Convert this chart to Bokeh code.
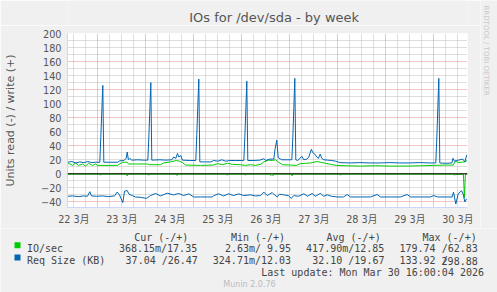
from bokeh.plotting import figure
from bokeh.layouts import column, row
from bokeh.models import Range1d, FixedTicker, Grid, Span
from bokeh.core.properties import value
from bokeh.embed import file_html
from bokeh.resources import INLINE

# ---------------- data (x = hours since 22 Mar 2026 00:00) ----------------
day_tick_hours = [12, 36, 60, 84, 108, 132, 156, 180, 204]
day_tick_labels = ["22 3月", "23 3月", "24 3月", "25 3月", "26 3月", "27 3月", "28 3月", "29 3月", "30 3月"]
y_ticks = [-40, -20, 0, 20, 40, 60, 80, 100, 120, 140, 160, 180, 200]

# IO/sec write (+)
io_write_t = [8.85, 9.35, 11.35, 12.85, 14.35, 16.35, 17.85, 19.35, 21.35, 22.85, 23.85, 33.85, 34.85,
              36.35, 38.7, 39.35, 48.85, 49.85, 55.35, 56.85, 60.35, 63.35, 64.85, 66.35, 67.85, 75.35,
              81.85, 83.85, 86.35, 88.85, 91.35, 95.35, 97.85, 100.35, 102.85, 105.35, 107.0, 109.35,
              111.35, 112.85, 114.35, 116.35, 120.35, 123.35, 125.35, 127.85, 130.35, 133.7, 135.35,
              137.85, 140.35, 143.35, 147.85, 155.35, 162.85, 170.35, 177.85, 185.35, 191.85, 197.85,
              201.7, 202.85, 204.35, 205.85, 207.5, 208.6]
io_write_v = [13, 15, 12, 15.5, 12, 14, 11, 15, 12, 14, 12, 12, 14,
              16.5, 16.5, 14, 14, 13, 13, 15.5, 17, 19, 18, 16, 12.5, 12,
              12.5, 14.5, 13, 15, 13.5, 13, 12, 13, 12, 13.5, 17, 19.5,
              19, 20, 16.5, 13, 12.5, 12, 14.5, 15, 15.5, 17.5, 16.5,
              15, 13.5, 12, 11.5, 11, 11.5, 11, 11, 11.5, 12, 12.5,
              12.5, 18, 16, 16.5, 17, 19]

# IO/sec read (-)
io_read_t = [8.85, 25.0, 25.35, 25.8, 38.3, 38.7, 39.1, 49.1, 49.5, 49.9, 63.3, 63.7, 64.1, 88.3, 88.7,
             89.1, 97.5, 97.85, 98.2, 110.0, 110.5, 111.0, 111.8, 112.2, 120.8, 121.2, 121.6, 132.7,
             133.1, 133.5, 145.0, 145.35, 145.7, 193.0, 193.35, 193.7, 201.5, 202.0, 203.0, 206.8,
             207.3, 207.8, 208.85]
io_read_v = [-0.4, -0.4, -2.0, -0.4, -0.4, -3.0, -0.4, -0.4, -2.0, -0.4, -0.4, -2.5, -0.4, -0.4, -2.0,
             -0.4, -0.4, -2.0, -0.4, -0.4, -2.5, -1.0, -2.5, -0.4, -0.4, -3.0, -0.4, -0.4,
             -1.5, -0.4, -0.4, -2.0, -0.4, -0.4, -1.5, -0.4, -0.4, -1.5, -1.0, -0.5,
             -34, -0.4, -0.4]

# Req Size (KB) write (+)
req_write_t = [8.85, 11, 13, 15, 17, 19, 21, 23, 25.0, 25.5, 26.5, 27.0, 30, 34, 35, 37, 38.2, 38.7, 39.3,
               40, 41, 44, 47, 49.0, 49.5, 50.5, 51.0, 55, 58, 61, 62, 63, 63.85, 64.5, 65.5, 66.3, 70,
               73.0, 73.5, 74.5, 75.0, 78, 80.5, 82, 84, 86, 88, 90, 93, 96, 97.0, 97.5, 98.5, 99.0,
               102, 105, 107, 108, 110, 112, 112.6, 113.5, 114.2, 116, 119, 121.0, 121.5, 122.5, 123.0,
               124, 126, 127, 128.5, 129.5, 130.8, 131.5, 132.5, 133.5, 134.3, 135.2, 136, 137, 139,
               141, 143, 145, 150, 155, 160, 165, 170, 175, 180, 185, 190, 193.0, 193.5, 194.5, 195.0,
               198, 201, 201.6, 202.3, 203.5, 205, 206.5, 207.5, 208.5]
req_write_v = [16.5, 17.5, 15.5, 17, 16, 17.5, 16, 16.5, 16.5, 52, 126, 16.5, 16.5, 16.5, 18.5, 19, 22, 31, 20,
               22, 19.5, 20, 19.5, 19.5, 50, 130, 19.5, 20, 19.5, 20, 24, 22, 29, 24, 26, 19.5, 19,
               19, 56, 135, 17, 17, 17, 19, 18, 20, 18, 19, 19, 19, 19, 50, 132, 19,
               19, 19.5, 21.5, 19, 21, 21, 35, 48, 23, 20, 20, 20, 50, 136, 20,
               19, 25, 20, 21, 24, 35, 30, 28, 24, 22, 28, 22, 20, 19.5,
               19, 18, 16, 15.5, 16, 15.5, 15.5, 16, 15.5, 15.5, 16, 15.5, 15.5, 50, 136, 15.5,
               15, 15.5, 22, 18, 19, 20, 21, 17, 27]

# Req Size (KB) read (-)
req_read_t = [8.85, 11.35, 14.35, 16.85, 18.85, 20.0, 20.85, 23.35, 26.35, 29.35, 32.35, 33.7, 34.85, 36.5,
              37.35, 38.7, 39.6, 41.2, 42.85, 45.35, 48.35, 50.35, 52.85, 55.35, 58.7, 61.85, 64.5,
              66.85, 69.5, 72.0, 75.35, 78.85, 81.35, 82.0, 84.5, 86.85, 89.5, 91.85, 94.5, 96.85,
              100.35, 102.85, 105.35, 107.0, 108.7, 111.2, 112.35, 113.7, 114.85, 116.85, 119.35,
              120.7, 122.0, 124.35, 127.0, 128.85, 131.2, 132.85, 135.35, 136.85, 138.7, 140.85,
              143.7, 146.85, 148.7, 150.35, 155.35, 160.35, 163.7, 165.35, 170.35, 175.35, 178.7,
              180.35, 185.35, 190.35, 192.0, 193.85, 197.85, 201.2, 201.85, 203.0, 204.2, 205.85,
              206.7, 207.5, 208.35]
req_read_v = [-32, -31.5, -32.5, -31.5, -32, -25.5, -31.5, -32, -31.5, -32.5, -31.5, -26, -30, -41,
              -24.7, -23.8, -29, -31, -33, -33.5, -35, -31, -28, -31.5, -27.6, -30, -28,
              -31, -28.5, -33, -33, -33, -33, -31, -28.5, -31.5, -28.5, -31, -28.5, -31,
              -30, -31.5, -31, -26, -31, -26.7, -30, -33, -29, -30, -31,
              -35, -31, -32, -28.5, -32, -28, -32, -27.7, -32, -30, -32,
              -33, -33, -29.5, -33, -33, -33, -29.5, -33, -33, -33, -29.5,
              -33, -33, -33, -31, -33, -33, -33, -26, -43, -28.5, -24,
              -29, -40, -35.7]

legend_header = ["Cur (-/+)", "Min (-/+)", "Avg (-/+)", "Max (-/+)"]
series_names = ["IO/sec", "Req Size (KB)"]
io_stats = ["368.15m/17.35", "2.63m/ 9.95", "417.90m/12.85", "179.74 /62.83"]
req_stats = ["37.04 /26.47", "324.71m/12.03", "32.10 /19.67", "133.92 /", "298.88"]

GREEN = "#00CC00"
BLUE = "#0066B3"
AXIS = "#CFD6F8"
BG = "#F0F0F0"
TXT = "#555555"
LEG = "#444444"
W, H = 497, 292
RW = 17          # right strip width
TH = 25          # title strip height
AH = 203         # chart figure height
LH = H - TH - AH  # legend strip height


def strip(w, h, x0, y_top):
    """Helper figure whose frame fills its canvas; x = canvas px, y = H - canvas px."""
    f = figure(width=w, height=h, output_backend="svg", toolbar_location=None,
               x_range=Range1d(x0, x0 + w), y_range=Range1d(H - y_top - h, H - y_top),
               x_axis_type=None, y_axis_type=None,
               min_border=0, background_fill_color=BG, border_fill_color=BG)
    f.outline_line_color = None
    f.grid.visible = False
    return f


def put(f, t, X, Y, align="left", size="10px", color=LEG, font="DejaVu Sans Mono", angle=0.0):
    f.text(x=[X], y=[H - Y], text=[t], text_align=align, text_baseline="alphabetic",
           text_font=value(font), text_font_size=value(size), text_color=color, angle=angle)


# ---------------- chart ----------------
X0, X1 = 8.85, 208.85
Y0, Y1 = -48.0, 200.0
p = figure(width=W - RW, height=AH, output_backend="svg", toolbar_location=None,
           x_range=Range1d(X0, X1), y_range=Range1d(Y0, Y1),
           min_border_left=67, min_border_right=W - RW - 467, min_border_top=33 - TH,
           min_border_bottom=TH + AH - 207,
           background_fill_color="white", border_fill_color=BG)
p.outline_line_color = None
p.xgrid.visible = False
p.ygrid.visible = False

minor_x = [h for h in range(6, 216, 6) if h % 24 != 0]
major_x = [h for h in range(24, 216, 24)]
minor_y = [v for v in range(-40, 201, 10) if v % 40 != 0]
major_y = [v for v in range(-40, 201, 40)]
for dim, ticks, col in ((0, minor_x, "#bdbdbd"), (1, minor_y, "#bdbdbd"),
                        (0, major_x, "#e58a8a"), (1, major_y, "#e58a8a")):
    p.add_layout(Grid(dimension=dim, ticker=FixedTicker(ticks=ticks), grid_line_color=col,
                      grid_line_dash="1 1", grid_line_width=1))

p.line(io_write_t, io_write_v, line_color=GREEN, line_width=1)
p.line(io_read_t, io_read_v, line_color=GREEN, line_width=1)
p.line(req_write_t, req_write_v, line_color=BLUE, line_width=1)
p.line(req_read_t, req_read_v, line_color=BLUE, line_width=1)
p.add_layout(Span(location=0, dimension="width", line_color="black", line_width=1))

xa = p.xaxis[0]
ya = p.yaxis[0]
for ax in (xa, ya):
    ax.axis_line_color = AXIS
    ax.major_tick_line_color = None
    ax.minor_tick_line_color = None
    ax.major_tick_out = 0
    ax.major_tick_in = 0
    ax.minor_tick_out = 0
    ax.minor_tick_in = 0
    ax.major_label_text_color = TXT
    ax.major_label_text_font = "DejaVu Sans, Noto Sans CJK JP"
    ax.major_label_text_font_size = "9.7px"
xa.ticker = FixedTicker(ticks=day_tick_hours)
xa.major_label_overrides = {h: s for h, s in zip(day_tick_hours, day_tick_labels)}
xa.major_label_standoff = 6
ya.ticker = FixedTicker(ticks=y_ticks)
ya.major_label_standoff = 6
ya.axis_label = "Units read (-) / write (+)"
ya.axis_label_text_font = "DejaVu Sans"
ya.axis_label_text_font_size = "11px"
ya.axis_label_text_font_style = "normal"
ya.axis_label_text_color = TXT
ya.axis_label_standoff = 21

# ---------------- title strip ----------------
T = strip(W - RW, TH, 0, 0)
put(T, "IOs for /dev/sda - by week", 248, 16.8, align="center", size="13px", color=TXT, font="DejaVu Sans")
# top arrow of the y axis
T.scatter(x=[67], y=[H - 29], marker="triangle", size=6, fill_color=AXIS, line_color=AXIS)
T.segment(x0=[67], y0=[H - 29], x1=[67], y1=[H - TH], line_color=AXIS)

# ---------------- right strip ----------------
R = strip(RW, TH + AH, W - RW, 0)
put(R, "RRDTOOL / TOBI OETIKER", 485.2, 5, size="7px", color="#c8c8c8", font="DejaVu Sans", angle=-1.5708)

# ---------------- legend strip ----------------
L = strip(W, LH, 0, TH + AH)
hdr_x = [133.7, 230.4, 326.0, 422.0]
for s, x in zip(legend_header, hdr_x):
    put(L, s, x, 236.5)
row1_x = [118.4, 224.4, 305.6, 399.0]
row2_x = [125.1, 212.3, 311.7, 399.0, 441.1]
put(L, series_names[0], 26.5, 248.0)
put(L, series_names[1], 26.5, 260.3)
for s, x in zip(io_stats, row1_x):
    put(L, s, x, 248.0)
for s, x in zip(req_stats, row2_x):
    put(L, s, x, 260.3)
put(L, "Last update: Mon Mar 30 16:00:04 2026", 483.5, 272.3, align="right")
put(L, "Munin 2.0.76", 249, 284, align="center", size="8px", color="#bbbbbb", font="DejaVu Sans")
L.quad(left=[14, 14], right=[20, 20], top=[H - 241.8, H - 254.0], bottom=[H - 247.8, H - 260.0],
       fill_color=[GREEN, BLUE], line_color=None)

layout = column(row(column(T, p, spacing=0), R, spacing=0), L, spacing=0)
open("out.html", "w").write(file_html(layout, INLINE))
